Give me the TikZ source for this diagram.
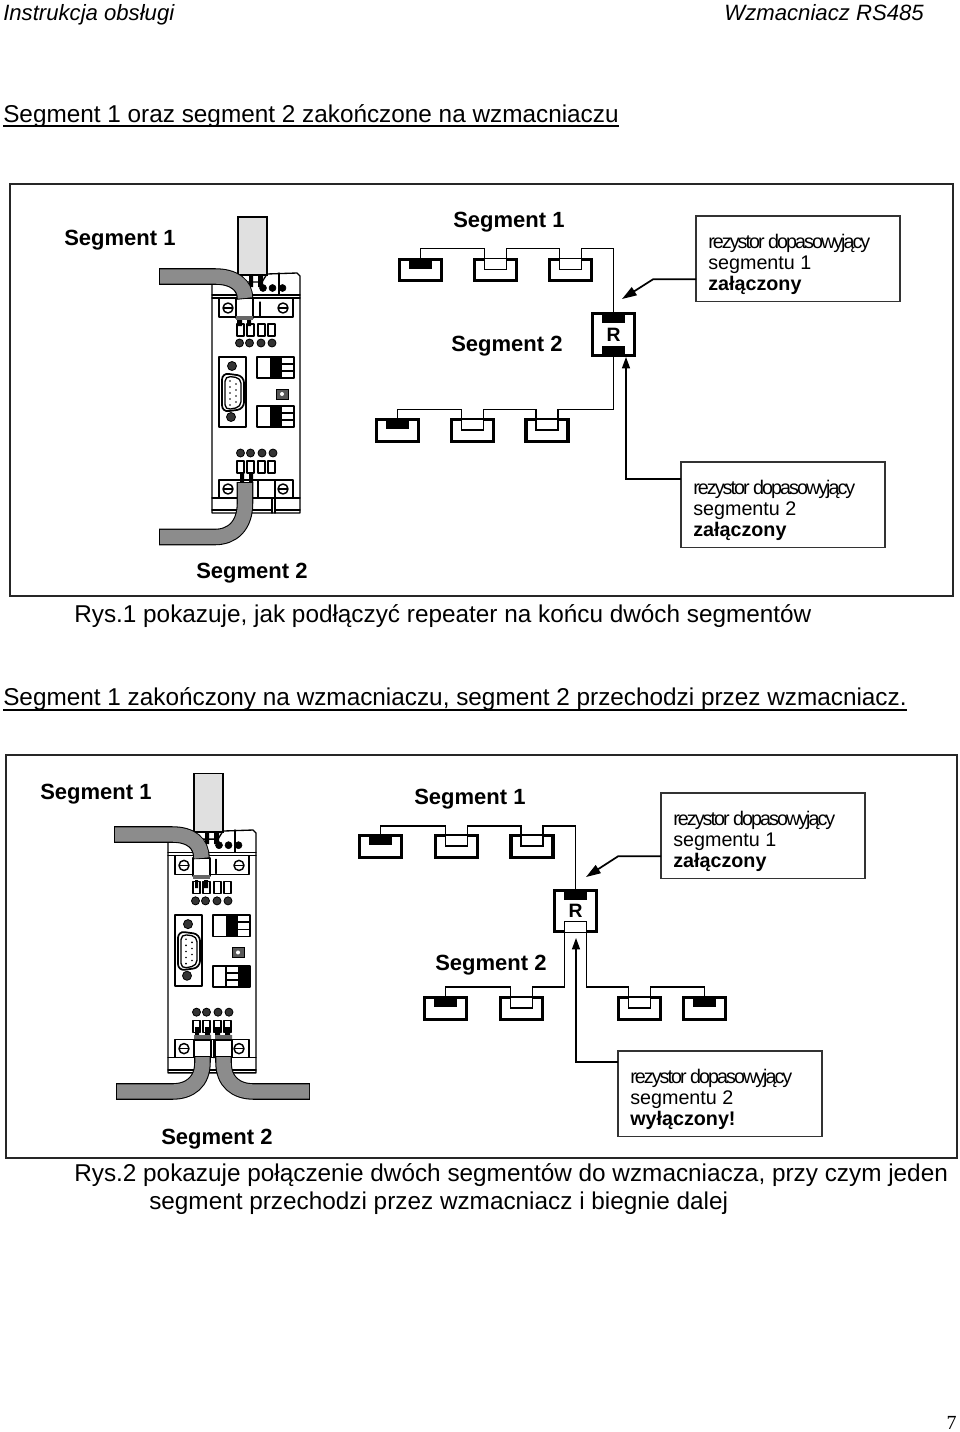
\documentclass[tikz,border=0pt]{standalone}
\usepackage{fontspec}
\setmainfont{Liberation Sans}
\newfontfamily\pagefont{Liberation Serif}
\newfontfamily\tightfont[LetterSpace=-10]{Liberation Sans}
\usetikzlibrary{arrows.meta}
\definecolor{cablegray}{gray}{0.55}
\definecolor{plugfill}{gray}{0.88}

\newcommand{\headsize}{\fontsize{16.6}{20}\selectfont}
\newcommand{\bodysize}{\fontsize{18.25}{22}\selectfont}
\newcommand{\notesize}{\fontsize{14.8}{18}\selectfont}

\tikzset{
	pagetext/.style={anchor=base west, inner sep=0pt, font=\bodysize},
	seglabel/.style={anchor=base west, inner sep=0pt, font=\fontsize{16.5}{20}\selectfont\bfseries},
	notetext/.style={anchor=base west, inner sep=0pt, font=\notesize},
	notebox/.style={draw=black!80, line width=1.1pt, anchor=north west, inner sep=0pt, outer sep=0pt, minimum width=153pt, minimum height=64pt},
	frame/.style={draw=black!85, line width=1.6pt},
	station/.style={draw, line width=2.4pt, inner sep=0pt, outer sep=0pt, minimum width=31.5pt, minimum height=16pt},
	stationR/.style={station, minimum width=31.5pt, minimum height=31pt},
	blacktab/.style={fill=black, inner sep=0pt, outer sep=0pt, minimum width=17pt, minimum height=7pt, anchor=north},
	whitetab/.style={fill=white, inner sep=0pt, outer sep=0pt, minimum width=16.5pt, minimum height=7.5pt, anchor=north},
	wire/.style={line width=1pt},
	tipline/.style={line width=0.9pt, -{Triangle[length=8.5pt,width=6pt]}},
	tipslant/.style={line width=1.3pt, -{Triangle[length=11pt,width=7pt]}},
	cableout/.style={line width=12.4pt, black, shorten <=-0.7pt, shorten >=-0.7pt},
	cablein/.style={line width=10.8pt, cablegray},
	devline/.style={line width=1pt, line cap=round, line join=round},
	device/.pic={
		% outline of the housing
		\draw[devline, fill=white] (0,23) -- (0,10) -- (50,10) -- (55,2) -- (85,1) -- (88,4) -- (88,241) -- (0,241) -- cycle;
		\draw[devline] (67,1) -- (67,23);
		\draw[devline] (0,23) -- (88,23) (0,26) -- (88,26);
		% screw terminals top and bottom
		\draw[devline] (7,26) rectangle (81,45);
		\draw[devline] (7,208) rectangle (81,226);
		\draw[devline] (0,226) -- (88,226) (0,238) -- (60,238) (63,238) -- (88,238);
		\draw[devline] (60,226) -- (60,241) (63,226) -- (63,241);
		\draw[devline] (46,208) -- (46,226) (63,208) -- (63,226);
		\foreach \sx/\sy in {16/36,71/36,16/217,71/217} {
			\draw[devline, fill=white, line width=1.1pt] (\sx,\sy) circle (5);
			\draw[devline] (\sx-4,\sy) -- (\sx+4,\sy);
		}
		\draw[devline] (48,30) -- (48,44);
		% leds and switches
		\foreach \lx/\cx in {25/27.5,35/37.5,46/49,56/60} {
			\draw[devline] (\lx,52) rectangle (\lx+7,64);
			\draw[fill=black!80, line width=0.6pt] (\cx,71) circle (4);
			\draw[devline] (\lx,189) rectangle (\lx+7,201);
			\draw[fill=black!80, line width=0.6pt] (\cx+1,181) circle (4);
		}
		% D-sub panel
		\draw[devline] (7,85) rectangle (34,155);
		\draw[line width=1.3pt, rounded corners=5pt] (10,101) -- (32,104) -- (32,137) -- (10,140) -- cycle;
		\draw[devline, rounded corners=4pt] (13,104) -- (29,106) -- (29,135) -- (13,138) -- cycle;
		\foreach \px/\py in {20/94,19/145} {
			\draw[fill=black!80, line width=0.6pt] (\px,\py) circle (4.5);
		}
		\foreach \py in {109,115,121,127,133} {
			\fill (18,\py) circle (0.9);
		}
		\foreach \py in {112,118,124,130} {
			\fill (24,\py) circle (0.9);
		}
		% upper plug-in terminal and trimmer
		\draw[devline] (45,85) rectangle (82,106);
		\fill (58,85) rectangle (70,106);
		\draw[devline] (70,92) -- (82,92) (70,99) -- (82,99);
		\draw[fill=black!65, line width=0.6pt] (64,117) rectangle (76,127);
		\fill[white] (70,122) circle (2);
		% top plug
		\draw[fill=black] (51,16) circle (3.5) (60.5,16) circle (3.5) (70.5,16) circle (3.5);
		\fill (37,4) rectangle (41,15) (46,4) rectangle (51,15);
		\draw[line width=1pt, fill=plugfill] (26,-55) rectangle (55,3);
	},
	termblackmid/.pic={
		\draw[devline] (0,0) rectangle (37,21);
		\fill (13,0) rectangle (25,21);
		\draw[devline] (25,7) -- (37,7) (25,14) -- (37,14);
	},
	termblackright/.pic={
		\draw[devline] (0,0) rectangle (37,21);
		\fill (25,0) rectangle (36,21);
		\draw[devline] (13,0) -- (13,21) (13,7) -- (25,7) (13,14) -- (25,14);
	},
}

% station: name, position, style of its tab
\newcommand{\stationA}[3]{%
	\node[station] (#1) at (#2) {};
	\node[#3] (#1t) at (#1.north) {};
}
% white tab sides run down from the wire
\newcommand{\tabsides}[1]{%
	\draw[line width=1pt] (#1t.north west) |- (#1t.south east) -- (#1t.north east);
}
\newcommand{\cablerun}[1]{%
	\draw[cableout] #1;
	\draw[cablein] #1;
}
% note box: name, position, number, state word
\newcommand{\notepanel}[4]{%
	\node[notebox] (#1) at (#2) {};
	\node[notetext, font=\notesize\tightfont] (#1a) at ([xshift=9pt,yshift=-24pt]#1.north west) {rezystor dopasowyjący};
	\node[notetext] (#1b) at ([yshift=-15.75pt]#1a.base west) {segmentu #3};
	\node[notetext, font=\notesize\bfseries] (#1c) at ([yshift=-16.25pt]#1b.base west) {#4};
}

\begin{document}
\begin{tikzpicture}[x=0.75pt,y=-0.75pt]
	\useasboundingbox (0,0) rectangle (960,1432);

	\node[pagetext, font=\headsize\itshape] (headL) at (3,20) {Instrukcja obsługi};
	\node[pagetext, font=\headsize\itshape, anchor=base east] (headR) at (924,20) {Wzmacniacz RS485};
	\node[pagetext] (titleA) at (3,122) {Segment 1 oraz segment 2 zakończone na wzmacniaczu};
	\draw[line width=1.4pt] ([yshift=-3pt]titleA.base west) -- ([yshift=-3pt]titleA.base east);
	\node[pagetext] (captA) at (74,622) {Rys.1 pokazuje, jak podłączyć repeater na końcu dwóch segmentów};
	\node[pagetext] (titleB) at (3,705) {Segment 1 zakończony na wzmacniaczu, segment 2 przechodzi przez wzmacniacz.};
	\draw[line width=1.4pt] ([yshift=-3.5pt]titleB.base west) -- ([yshift=-3.5pt]titleB.base east);
	\node[pagetext] (captB) at (74,1181) {Rys.2 pokazuje połączenie dwóch segmentów do wzmacniacza, przy czym jeden};
	\node[pagetext] (captC) at (149,1209) {segment przechodzi przez wzmacniacz i biegnie dalej};
	\node[pagetext, font=\fontsize{15}{17}\selectfont\pagefont, anchor=base east] (pageno) at (957,1429) {7};

	\draw[frame] (10,184) rectangle (953,596);
	\draw[frame, line width=1.1pt] (6,755) rectangle (957,1158);

	% first figure, device
	\pic (devA) at (212,272) {device};
	\pic (devAt) at (257,406) {termblackmid};
	\fill (240,474) rectangle (244,482) (249,474) rectangle (253,482);
	\fill (237,319) rectangle (242,326) (247,319) rectangle (251,326);
	\draw[devline, fill=white] (236,298) rectangle (253,318);
	\fill[black!60] (236,316) rectangle (253,320);
	\cablerun{(160,276.5) -- (215,276.5) .. controls (234,276.5) and (245,285) .. (245,298)}
	\cablerun{(245,483) -- (245,503) .. controls (245,526) and (232,537) .. (215,537) -- (160,537)}

	\node[seglabel] (lblA) at (64,245) {Segment 1};
	\node[seglabel] (lblB) at (453,227) {Segment 1};
	\node[seglabel] (lblC) at (451,351.5) {Segment 2};
	\node[seglabel] (lblD) at (196,578.5) {Segment 2};

	% first figure, bus
	\stationA{sa}{420.5,270}{blacktab}
	\stationA{sb}{495.5,270}{whitetab}
	\stationA{sc}{570.5,270}{whitetab}
	\stationA{sd}{397.5,430.5}{blacktab}
	\stationA{se}{472.5,430.5}{whitetab}
	\stationA{sf}{547,430.5}{whitetab}
	\node[stationR] (ra) at (613.5,334.5) {};
	\node[blacktab] (rat) at (ra.north) {};
	\node[blacktab, anchor=south] (rab) at (ra.south) {};
	\node[font=\fontsize{14.5}{18}\selectfont\bfseries, inner sep=0pt] (raR) at (ra) {R};
	\foreach \st in {sb,sc,se,sf} {
		\tabsides{\st}
	}
	\draw[wire] (sat.north) -- ++(0,-11) -| (sbt.north west);
	\draw[wire] (sbt.north east) -- ++(0,-11) -| (sct.north west);
	\draw[wire] (sct.north east) -- ++(0,-11) -| (rat.north);
	\draw[wire] (sdt.north) -- ++(0,-10.5) -| (set.north west);
	\draw[wire] (set.north east) -- ++(0,-10.5) -| (sft.north west);
	\draw[wire] (sft.north east) -- ++(0,-10.5) -| (rab.south);

	\notepanel{noteA}{696,216}{1}{załączony}
	\notepanel{noteB}{681,462}{2}{załączony}
	\coordinate (tipA) at (622,299);
	\coordinate (tipB) at (626,357);
	\draw[tipslant] ([yshift=16.5pt]noteA.south west) -- ++(-43,0) -- (tipA);
	\draw[tipline] ([yshift=-12.75pt]noteB.north west) -| (tipB);

	% second figure, device
	\pic[yscale=1.012] (devB) at (168,829) {device};
	\pic (devBt) at (213,966) {termblackright};
	\fill (195,880) rectangle (198,888) (204,880) rectangle (208,888);
	\fill (195,1027) rectangle (199,1037) (205,1027) rectangle (210,1037);
	\fill (215,1027) rectangle (220,1037) (225,1027) rectangle (230,1037);
	\draw[devline, fill=white] (193,858) rectangle (210,876);
	\fill[black!60] (193,875) rectangle (210,879);
	\fill[black!60] (194,1035) rectangle (211,1040) (215,1035) rectangle (232,1040);
	\draw[devline, fill=white] (194,1040) rectangle (211,1057) (215,1040) rectangle (232,1057);
	\cablerun{(115,834.5) -- (172,834.5) .. controls (191,834.5) and (201.5,843) .. (201.5,858)}
	\cablerun{(202.5,1057) -- (202.5,1062) .. controls (202.5,1082) and (190,1091.5) .. (172,1091.5) -- (117,1091.5)}
	\cablerun{(223.5,1057) -- (223.5,1062) .. controls (223.5,1082) and (236,1091.5) .. (254,1091.5) -- (309,1091.5)}

	\node[seglabel] (lblE) at (40,799.5) {Segment 1};
	\node[seglabel] (lblF) at (414,804) {Segment 1};
	\node[seglabel] (lblG) at (435,970) {Segment 2};
	\node[seglabel] (lblH) at (161,1144) {Segment 2};

	% second figure, bus
	\stationA{ta}{380.5,846.5}{blacktab}
	\stationA{tb}{456.5,846.5}{whitetab}
	\stationA{tc}{532,846.5}{whitetab}
	\stationA{td}{445.5,1008.5}{blacktab}
	\stationA{te}{521.5,1008.5}{whitetab}
	\stationA{tf}{639.5,1008.5}{whitetab}
	\stationA{tg}{704.5,1008.5}{blacktab}
	\node[stationR] (rb) at (575.5,911) {};
	\node[blacktab] (rbt) at (rb.north) {};
	\node[whitetab, anchor=south] (rbb) at (rb.south) {};
	\draw[line width=1pt] (rbb.south west) |- (rbb.north east) -- (rbb.south east);
	\node[font=\fontsize{14.5}{18}\selectfont\bfseries, inner sep=0pt] (rbR) at (rb) {R};
	\foreach \st in {tb,tc,te,tf} {
		\tabsides{\st}
	}
	\draw[wire] (tat.north) -- ++(0,-10) -| (tbt.north west);
	\draw[wire] (tbt.north east) -- ++(0,-10) -| (tct.north west);
	\draw[wire] (tct.north east) -- ++(0,-10) -| (rbt.north);
	\draw[wire] (tdt.north) -- ++(0,-11) -| (tet.north west);
	\draw[wire] (tet.north east) -- ++(0,-11) -| (rbb.south west);
	\draw[wire] (tft.north west) -- ++(0,-11) -| (rbb.south east);
	\draw[wire] (tft.north east) -- ++(0,-11) -| (tgt.north);

	\notepanel{noteC}{661,793}{1}{załączony}
	\notepanel{noteD}{618,1051}{2}{wyłączony!}
	\coordinate (tipC) at (586,877);
	\coordinate (tipD) at (576,938);
	\draw[tipslant] ([yshift=16.5pt]noteC.south west) -- ++(-43,0) -- (tipC);
	\draw[tipline] ([yshift=-8.25pt]noteD.north west) -| (tipD);
\end{tikzpicture}
\end{document}
